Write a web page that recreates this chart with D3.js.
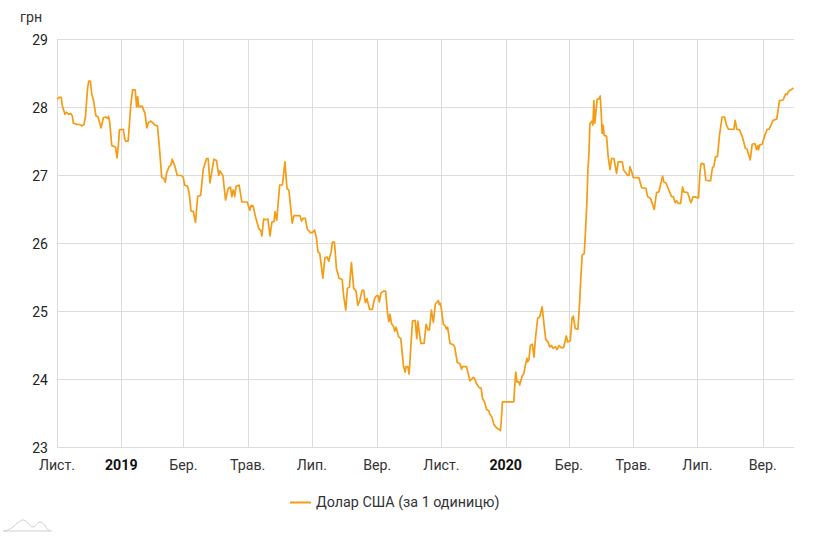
<!DOCTYPE html>
<html><head><meta charset="utf-8">
<script src="https://cdn.jsdelivr.net/npm/d3@7"></script>
<style>html,body{margin:0;padding:0;background:#fff}svg{display:block;font-family:Roboto,sans-serif}</style>
</head><body><svg id="c" width="815" height="537"></svg>
<script>
// [days elapsed since 1 Nov 2018, rate]
const ratesSegmentA = [[0,28.12],[2,28.15],[4,28.15],[5,28.03],[7.5,27.9],[9,27.93],[11,27.9],[13,27.91],[14.5,27.88],[15.5,27.77],[19,27.75],[21.5,27.75],[23.5,27.73],[25.5,27.745],[27,27.86],[29,28.28],[30.2,28.39],[31.7,28.39],[33,28.2],[34.7,28.1],[36.9,27.88],[39,27.86],[41.9,27.7],[44,27.85],[46.3,27.86],[48,27.84],[49,27.87],[50,27.79],[52,27.44],[55.5,27.42],[57,27.26],[58.3,27.45],[59.3,27.67],[63,27.68],[64.3,27.54],[65.4,27.5],[67.6,27.51],[70,28.03],[71.8,28.26],[74.2,28.26],[75.6,28.01],[76.6,28.16],[77.5,28.01],[80.8,28.02],[83.6,27.91],[85.2,27.7],[86.8,27.78],[89.3,27.8],[93.1,27.74],[95.3,27.73],[97.2,27.42],[99.4,26.97],[101.4,26.96],[102.8,26.9],[104.1,27.04],[106.4,27.13],[108,27.15],[109.4,27.24],[111.6,27.15],[114.2,27],[118.3,27],[119.9,26.97],[121.1,26.86],[124,26.84],[125.5,26.74],[127.2,26.48],[129.4,26.47],[131.5,26.31],[133.5,26.69],[136.4,26.71],[138.9,27.1],[142,27.25],[143.5,27.25],[145.2,26.89],[146.7,27.03],[149,27.24],[151.5,27.22],[153.5,27],[154.5,27.07],[157.5,27],[160,26.64],[162.5,26.81],[164.7,26.83],[166,26.69],[167.3,26.79],[168.7,26.69],[170,26.84],[172.9,26.86],[175.5,26.61],[180.5,26.61],[183,26.49],[184.3,26.56],[186.2,26.55],[188.5,26.39],[191.5,26.22],[193.5,26.19],[194.5,26.11],[196.2,26.36],[198,26.35],[200.2,26.36],[202.2,26.11],[204.1,26.32],[206,26.32],[207,26.47],[208.6,26.34],[211.4,26.86],[214,26.86],[216.4,27.2],[218.3,26.81],[220.2,26.78],[223.3,26.3],[225,26.41]];
const ratesSegmentB = [[226.8,26.41],[230.6,26.41],[232.2,26.33],[233.5,26.37],[235.7,26.37],[237.6,26.21],[240.7,26.16],[242.6,26.16],[244.5,26.2],[246.4,26.07],[247.7,25.88],[249.5,25.85],[252.4,25.49],[254.3,25.79],[256.5,25.8],[258,25.74],[260.3,25.88],[261.5,26.02],[263.4,26.02],[265.3,25.63],[267.8,25.49],[270.7,25.47],[272.2,25.22],[274.1,25.02],[275.7,25.34],[277.6,25.36],[279.5,25.72],[281.7,25.34],[283.9,25.3],[285.5,25.09],[287.4,25.16],[289.6,25.31],[291.2,25.31],[292.7,25.13],[294.3,25.19],[295.3,25.12],[296.8,25.03],[299.3,25.03],[301.5,25.19],[303.1,25.23],[305,25.23],[306,25.14],[307.5,25.27],[310.1,25.3],[312,25.3],[313.8,24.97],[315.1,24.85],[316.1,24.96],[317.6,24.82],[319.5,24.78],[320.7,24.71],[322,24.77],[324.2,24.63],[326.4,24.6],[329,24.19],[330.5,24.11],[331.4,24.19],[333,24.19],[334.3,24.08],[335.9,24.48],[337.5,24.86],[340,24.87],[341.6,24.6],[342.5,24.86],[345.4,24.53],[348.5,24.53],[350.4,24.81],[352.3,24.73],[353.6,24.73],[355.4,25.02],[357.3,24.84],[359.2,25.11],[362.1,25.16],[362.9,25.1],[363.8,25.12],[364.8,25.05],[366.8,24.81],[368.4,24.79],[369.8,24.74],[370.8,24.77],[373.1,24.53],[376.3,24.51],[377.5,24.48],[380,24.25],[382.5,24.23],[384.1,24.15],[385,24.19],[388.8,24.19],[392,23.98],[395,24.03],[396.2,24.02],[398.3,23.94],[400.8,23.88],[402.7,23.87],[404,23.72],[405.9,23.67],[407.8,23.56],[410,23.54],[410.9,23.49],[412.8,23.45],[414.7,23.34],[417.2,23.29],[421,23.25],[421.7,23.38],[422.9,23.67],[433.6,23.67],[435.5,24.11],[436.7,23.96],[438.3,23.97],[439.3,23.92],[441.5,24.05],[443.1,24.08],[445,24.24],[446.2,24.31],[446.8,24.26],[448,24.29],[449.4,24.5],[451.3,24.52],[452.8,24.33],[454.4,24.63],[456.3,24.9],[458.2,24.92],[460.6,25.07]];
const ratesSegmentC = [[462.4,24.8],[464,24.59],[466.2,24.55],[467.8,24.48],[469.4,24.5],[470.9,24.46],[473.4,24.48],[474.7,24.44],[476.6,24.5],[478.5,24.47],[481,24.47],[483.5,24.64],[484.8,24.55],[487.3,24.57],[488.9,24.9],[490.1,24.93],[492,24.75],[494.5,24.74],[496.1,25.12],[497.7,25.61],[498.6,25.83],[500.5,25.85],[501.8,26.2],[503,26.59],[504,27.08],[505,27.32],[505.9,27.76],[507.8,27.8],[508.7,27.74],[509.7,28.1],[510.6,27.77],[512.8,28.12],[514.7,28.13],[515.7,28.17],[516.6,27.94],[517.5,27.62],[518.5,27.74],[519.4,27.59],[521.7,27.58],[523.3,27.27],[524.9,27.09],[526.5,27.25],[528.7,27.25],[531.2,27.03],[532.8,27.2],[536.7,27.2],[537.9,27.08],[539.9,27.04],[541.7,27],[543,27],[543.9,27.13],[545.5,27.06],[547.1,26.97],[552.4,26.97],[555,26.82],[559.1,26.81],[560.7,26.69],[563.6,26.66],[567,26.5],[569.2,26.75],[571.4,26.76],[574.9,26.99],[576.2,26.9],[578.1,26.89],[583.4,26.69],[585,26.69],[586.9,26.6],[588.2,26.63],[589.8,26.59],[592,26.59],[593.9,26.83],[595,26.76],[598.6,26.75],[601.8,26.6],[604,26.69],[609,26.67],[610.6,27.08],[611.6,27.18],[614.1,27.17],[616,26.93],[620.4,26.92],[622.3,27.12],[623.6,27.13],[625.1,27.27],[627,27.28],[628.9,27.59],[631.4,27.86],[633.7,27.86],[635.6,27.74],[637.5,27.68],[642.6,27.68],[643.8,27.81],[645.4,27.68],[647.9,27.67],[650.4,27.58],[652,27.49],[653.4,27.4],[655,27.39],[658.1,27.23],[660,27.46],[662.5,27.47],[664.1,27.38],[665.4,27.44],[666,27.38],[667.2,27.45],[669.4,27.46],[672,27.59],[674.2,27.68],[676,27.68],[679.8,27.81],[683.3,27.83],[685.9,28.1],[689.3,28.11],[691.8,28.2],[693,28.19],[694.3,28.23],[695.5,28.25],[697,28.26],[699,28.29]];
const yTicks = [23,24,25,26,27,28,29];
const xTickDays = [0,61,120,181,242,304,365,426,486,547,608,670];
const xTickLabels = ["Лист.","2019","Бер.","Трав.","Лип.","Вер.","Лист.","2020","Бер.","Трав.","Лип.","Вер."];
const yUnit = "грн";
const seriesName = "Долар США (за 1 одиницю)";
const lineColor = "#f49c14";
const rates = ratesSegmentA.concat(ratesSegmentB, ratesSegmentC);

const svg = d3.select("#c");
const x = d3.scaleLinear().domain([0,699]).range([57,793.3]);
const y = d3.scaleLinear().domain([23,29]).range([447.5,39.5]);

svg.append("g").selectAll("line").data(yTicks).join("line")
  .attr("x1",57).attr("x2",794).attr("y1",d=>y(d)).attr("y2",d=>y(d))
  .attr("stroke","#dcdcdc").attr("stroke-width",1);
svg.append("g").selectAll("line").data(xTickDays).join("line")
  .attr("x1",d=>Math.round(x(d))+.5).attr("x2",d=>Math.round(x(d))+.5).attr("y1",39.5).attr("y2",447.5)
  .attr("stroke","#dcdcdc").attr("stroke-width",1);

svg.append("g").selectAll("text").data(yTicks).join("text")
  .attr("x",48).attr("y",d=>y(d)+5).attr("text-anchor","end")
  .attr("font-size",14).attr("fill","#222").text(d=>d);
svg.append("g").selectAll("text").data(xTickDays).join("text")
  .attr("x",d=>x(d)).attr("y",469.5).attr("text-anchor","middle")
  .attr("font-size",14.2).attr("fill",(d,i)=>/^\d+$/.test(xTickLabels[i])?"#111":"#333")
  .attr("font-weight",(d,i)=>/^\d+$/.test(xTickLabels[i])?"700":"400")
  .text((d,i)=>xTickLabels[i]);
svg.append("text").attr("x",20).attr("y",22).attr("font-size",14.2).attr("fill","#333").text(yUnit);

const line = d3.line().x(d=>x(d[0])).y(d=>y(d[1]));
svg.append("path").datum(rates).attr("d",line).attr("fill","none")
  .attr("stroke",lineColor).attr("stroke-width",1.7).attr("stroke-linejoin","round");

svg.append("line").attr("x1",290).attr("x2",311).attr("y1",502.5).attr("y2",502.5)
  .attr("stroke",lineColor).attr("stroke-width",2);
svg.append("text").attr("x",316).attr("y",507).attr("font-size",14.3).attr("fill","#333").text(seriesName);

// faint brand mark, bottom-left
svg.append("path").attr("d","M3 531 L52 531 M4 531 C12 530 16 523 22 520 C27 519 29 527 33 527 C37 526 38 521 41 522 C45 523 46 529 50 531")
  .attr("fill","none").attr("stroke","#cfcfcf").attr("stroke-width",1);
</script></body></html>
